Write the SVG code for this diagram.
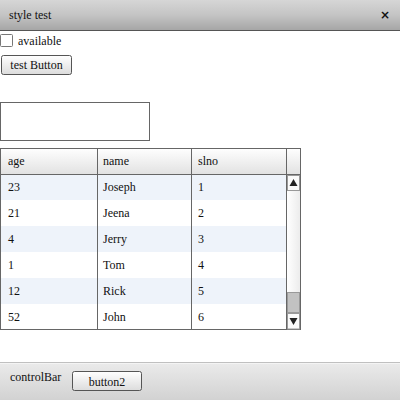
<svg xmlns="http://www.w3.org/2000/svg" width="400" height="400" viewBox="0 0 400 400">
<defs>
<linearGradient id="gTitle" x1="0" y1="0" x2="0" y2="1"><stop offset="0" stop-color="#d6d6d6"/><stop offset="0.5" stop-color="#c4c4c4"/><stop offset="1" stop-color="#a6a6a6"/></linearGradient>
<linearGradient id="gBtn" x1="0" y1="0" x2="0" y2="1"><stop offset="0" stop-color="#ffffff"/><stop offset="1" stop-color="#dcdcdc"/></linearGradient>
<linearGradient id="gHead" x1="0" y1="0" x2="0" y2="1"><stop offset="0" stop-color="#ffffff"/><stop offset="1" stop-color="#e2e2e2"/></linearGradient>
<linearGradient id="gBar" x1="0" y1="0" x2="0" y2="1"><stop offset="0" stop-color="#ebebeb"/><stop offset="1" stop-color="#d2d2d2"/></linearGradient>
<linearGradient id="gTrack" x1="0" y1="0" x2="1" y2="0"><stop offset="0" stop-color="#ffffff"/><stop offset="1" stop-color="#ececec"/></linearGradient>
</defs>
<style>
text{font-family:"Liberation Serif","Times New Roman",serif;font-size:12px;fill:#111}
.cell{font-size:12px}
.line{stroke:#666;stroke-width:1;fill:none}
.btn{fill:url(#gBtn);stroke:#555;stroke-width:1}
</style>
<rect x="0" y="0" width="400" height="400" fill="#ffffff"/>
<g id="titlebar">
<rect x="0" y="0" width="400" height="30" fill="url(#gTitle)"/>
<line x1="0" y1="30.5" x2="400" y2="30.5" stroke="#555" stroke-width="1"/>
<text x="9" y="19">style test</text>
<text x="385" y="19" text-anchor="middle" font-family="DejaVu Sans, sans-serif" font-weight="bold" font-size="12" style="font-family:'DejaVu Sans',sans-serif">×</text>
</g>
<g id="checkbox">
<rect x="0.5" y="34.5" width="12" height="12" fill="#fff" stroke="#777" rx="1"/>
<text x="18" y="45">available</text>
</g>
<g id="testButton">
<rect x="1.5" y="55.5" width="70" height="19" rx="2" class="btn"/>
<text x="36.5" y="69" text-anchor="middle">test Button</text>
</g>
<g id="textInput">
<rect x="0.5" y="102.5" width="149" height="38" fill="#fff" stroke="#666"/>
</g>
<g id="grid">
<rect x="0" y="148" width="301" height="26" fill="url(#gHead)"/>
<rect x="0" y="174" width="286" height="26" fill="#eef3fa"/>
<rect x="0" y="226" width="286" height="26" fill="#eef3fa"/>
<rect x="0" y="278" width="286" height="26" fill="#eef3fa"/>
<rect x="0.5" y="148.5" width="300" height="181" class="line"/>
<line x1="0" y1="174.5" x2="301" y2="174.5" class="line"/>
<line x1="97.5" y1="148" x2="97.5" y2="330" class="line"/>
<line x1="191.5" y1="148" x2="191.5" y2="330" class="line"/>
<line x1="286.5" y1="148" x2="286.5" y2="330" class="line"/>
<text x="8" y="165" class="cell">age</text>
<text x="103" y="165" class="cell">name</text>
<text x="198" y="165" class="cell">slno</text>
<text x="8" y="191" class="cell">23</text><text x="103" y="191" class="cell">Joseph</text><text x="198" y="191" class="cell">1</text>
<text x="8" y="217" class="cell">21</text><text x="103" y="217" class="cell">Jeena</text><text x="198" y="217" class="cell">2</text>
<text x="8" y="243" class="cell">4</text><text x="103" y="243" class="cell">Jerry</text><text x="198" y="243" class="cell">3</text>
<text x="8" y="269" class="cell">1</text><text x="103" y="269" class="cell">Tom</text><text x="198" y="269" class="cell">4</text>
<text x="8" y="295" class="cell">12</text><text x="103" y="295" class="cell">Rick</text><text x="198" y="295" class="cell">5</text>
<text x="8" y="321" class="cell">52</text><text x="103" y="321" class="cell">John</text><text x="198" y="321" class="cell">6</text>
</g>
<g id="scrollbar">
<rect x="287" y="175" width="13" height="154" fill="url(#gTrack)"/>
<rect x="287.5" y="292.5" width="12" height="20" fill="#c2c2c2" stroke="#999"/>
<rect x="287.5" y="175.5" width="12" height="15" fill="#fafafa" stroke="#999"/>
<rect x="287.5" y="313.5" width="12" height="15.5" fill="#fafafa" stroke="#999"/>
<polygon points="293.5,179 289.5,186 297.5,186" fill="#222"/>
<polygon points="289.5,318 297.5,318 293.5,325" fill="#222"/>
</g>
<g id="controlBar">
<rect x="0" y="362" width="400" height="38" fill="url(#gBar)"/>
<line x1="0" y1="362.5" x2="400" y2="362.5" stroke="#c0c0c0"/>
<line x1="0" y1="363.5" x2="400" y2="363.5" stroke="#f4f4f4"/>
<text x="10" y="381">controlBar</text>
<rect x="72.5" y="371.5" width="69" height="19" rx="2" class="btn"/>
<text x="107" y="386" text-anchor="middle">button2</text>
</g>
</svg>
